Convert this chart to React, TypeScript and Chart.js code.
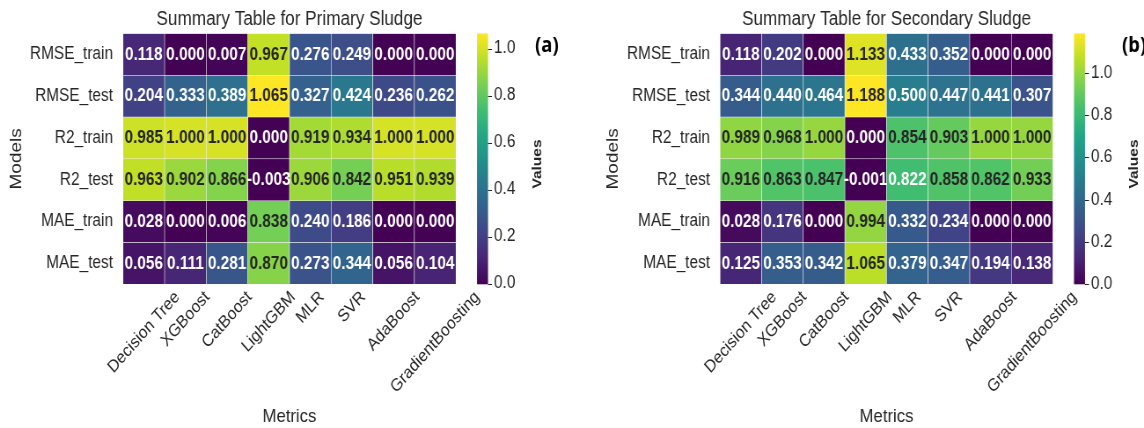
import React, { useEffect, useRef } from 'react';
import { Chart, registerables } from 'chart.js';

Chart.register(...registerables);

// ---------- data ----------
const MODELS = ['Decision Tree', 'XGBoost', 'CatBoost', 'LightGBM', 'MLR', 'SVR', 'AdaBoost', 'GradientBoosting'];
const METRICS = ['RMSE_train', 'RMSE_test', 'R2_train', 'R2_test', 'MAE_train', 'MAE_test'];
const CB_TICKS = [0, 0.2, 0.4, 0.6, 0.8, 1.0];

// Primary sludge
const P_RMSE_TRAIN = [0.118, 0.000, 0.007, 0.967, 0.276, 0.249, 0.000, 0.000];
const P_RMSE_TEST = [0.204, 0.333, 0.389, 1.065, 0.327, 0.424, 0.236, 0.262];
const P_R2_TRAIN = [0.985, 1.000, 1.000, 0.000, 0.919, 0.934, 1.000, 1.000];
const P_R2_TEST = [0.963, 0.902, 0.866, -0.003, 0.906, 0.842, 0.951, 0.939];
const P_MAE_TRAIN = [0.028, 0.000, 0.006, 0.838, 0.240, 0.186, 0.000, 0.000];
const P_MAE_TEST = [0.056, 0.111, 0.281, 0.870, 0.273, 0.344, 0.056, 0.104];
const PRIMARY = [P_RMSE_TRAIN, P_RMSE_TEST, P_R2_TRAIN, P_R2_TEST, P_MAE_TRAIN, P_MAE_TEST];

// Secondary sludge
const S_RMSE_TRAIN = [0.118, 0.202, 0.000, 1.133, 0.433, 0.352, 0.000, 0.000];
const S_RMSE_TEST = [0.344, 0.440, 0.464, 1.188, 0.500, 0.447, 0.441, 0.307];
const S_R2_TRAIN = [0.989, 0.968, 1.000, 0.000, 0.854, 0.903, 1.000, 1.000];
const S_R2_TEST = [0.916, 0.863, 0.847, -0.001, 0.822, 0.858, 0.862, 0.933];
const S_MAE_TRAIN = [0.028, 0.176, 0.000, 0.994, 0.332, 0.234, 0.000, 0.000];
const S_MAE_TEST = [0.125, 0.353, 0.342, 1.065, 0.379, 0.347, 0.194, 0.138];
const SECONDARY = [S_RMSE_TRAIN, S_RMSE_TEST, S_R2_TRAIN, S_R2_TEST, S_MAE_TRAIN, S_MAE_TEST];

// ---------- colour map ----------
const VIRIDIS = ['#440154', '#482475', '#414487', '#355f8d', '#2a788e', '#21918c', '#22a884', '#44bf70', '#7ad151', '#bddf26', '#fde725'];

function hexToRgb(h: string): number[] {
  return [parseInt(h.slice(1, 3), 16), parseInt(h.slice(3, 5), 16), parseInt(h.slice(5, 7), 16)];
}
const VIRIDIS_RGB = VIRIDIS.map(hexToRgb);

function viridis(t: number): number[] {
  const tt = Math.max(0, Math.min(1, t)) * (VIRIDIS_RGB.length - 1);
  const i = Math.min(Math.floor(tt), VIRIDIS_RGB.length - 2);
  const f = tt - i;
  const a = VIRIDIS_RGB[i], b = VIRIDIS_RGB[i + 1];
  return [0, 1, 2].map((k) => a[k] + (b[k] - a[k]) * f);
}
function rgbStr(c: number[]) {
  return `rgb(${Math.round(c[0])},${Math.round(c[1])},${Math.round(c[2])})`;
}
function luminance(c: number[]) {
  const lin = c.map((v) => {
    const s = v / 255;
    return s <= 0.03928 ? s / 12.92 : Math.pow((s + 0.055) / 1.055, 2.4);
  });
  return 0.2126 * lin[0] + 0.7152 * lin[1] + 0.0722 * lin[2];
}

// ---------- layout ----------
const SX = 0.88; // horizontal compression of the figure
const PANEL_CSS_W = 572;
const H = 428;
const TEXT = '#262626';
const FONT = "'Liberation Sans', Arial, sans-serif";

type PanelProps = { title: string; rows: number[][]; tag: string; shift: number; tagOffset: number };

function Panel({ title, rows, tag, shift, tagOffset }: PanelProps) {
  const ref = useRef<HTMLCanvasElement | null>(null);
  const W = Math.round(PANEL_CSS_W / SX);

  useEffect(() => {
    const canvas = ref.current;
    if (!canvas) return;
    Chart.defaults.font.family = FONT;
    const padL = shift / SX;
    const yW = 123 / SX;
    const heatW = 333 / SX;
    const y2W = W - padL - yW - heatW;
    const flat = rows.flat();
    const vmin = Math.min(...flat);
    const vmax = Math.max(...flat);
    const norm = (v: number) => (v - vmin) / (vmax - vmin);

    const datasets = METRICS.map((m, r) => ({
      label: m,
      data: MODELS.map(() => [r, r + 1]),
      backgroundColor: rows[r].map((v) => rgbStr(viridis(norm(v)))),
      borderColor: 'rgba(238,238,238,0.9)',
      borderWidth: 0.6,
      borderSkipped: false,
      barPercentage: 1,
      categoryPercentage: 1,
      grouped: false,
    }));

    const noPad = (sc: any) => {
      sc.paddingTop = 0;
      sc.paddingBottom = 0;
      sc.paddingLeft = 0;
      sc.paddingRight = 0;
    };

    const deco = {
      id: 'deco',
      afterDatasetsDraw(chart: any) {
        const ctx = chart.ctx as CanvasRenderingContext2D;
        const ca = chart.chartArea;
        ctx.save();
        // cell annotations
        ctx.font = `bold 17.5px ${FONT}`;
        ctx.textAlign = 'center';
        ctx.textBaseline = 'middle';
        chart.data.datasets.forEach((_: any, r: number) => {
          const meta = chart.getDatasetMeta(r);
          meta.data.forEach((el: any, c: number) => {
            const v = rows[r][c];
            ctx.fillStyle = luminance(viridis(norm(v))) > 0.408 ? TEXT : '#ffffff';
            const p = el.getCenterPoint();
            ctx.fillText(v.toFixed(3), p.x, p.y + 0.5);
          });
        });
        // rotated x tick labels (centred like matplotlib)
        const xs = chart.scales.x;
        const fs = 17.5;
        ctx.font = `${fs}px ${FONT}`;
        ctx.fillStyle = TEXT;
        MODELS.forEach((m, i) => {
          const w = ctx.measureText(m).width;
          const d = (w + fs * 1.15) * Math.SQRT1_2;
          const cx = xs.getPixelForValue(i);
          const cy = ca.bottom + 3 + d / 2;
          ctx.save();
          ctx.translate(cx, cy);
          ctx.rotate(-Math.PI / 4);
          ctx.fillText(m, 0, 0);
          ctx.restore();
        });
        // colour bar
        const s = chart.scales.y2;
        const x0 = ca.right + 21 / SX;
        const x1 = ca.right + 32 / SX;
        const top = s.getPixelForValue(vmax);
        const bottom = s.getPixelForValue(vmin);
        const g = ctx.createLinearGradient(0, bottom, 0, top);
        VIRIDIS.forEach((c, i) => g.addColorStop(i / (VIRIDIS.length - 1), c));
        ctx.fillStyle = g;
        ctx.fillRect(x0, top, x1 - x0, bottom - top);
        ctx.strokeStyle = TEXT;
        ctx.lineWidth = 1;
        s.ticks.forEach((t: any) => {
          const y = Math.round(s.getPixelForValue(t.value)) + 0.5;
          ctx.beginPath();
          ctx.moveTo(x1, y);
          ctx.lineTo(x1 + 4 / SX, y);
          ctx.stroke();
        });
        // colour bar label
        ctx.font = `bold 15.5px ${FONT}`;
        ctx.fillStyle = TEXT;
        ctx.save();
        ctx.translate(ca.right + 81.5 / SX, 164);
        ctx.rotate(-Math.PI / 2);
        ctx.textAlign = 'center';
        ctx.textBaseline = 'middle';
        ctx.fillText('Values', 0, 0);
        ctx.restore();
        // panel tag
        ctx.font = `bold 21px 'Open Sans', ${FONT}`;
        ctx.fillStyle = '#000000';
        ctx.textAlign = 'left';
        ctx.textBaseline = 'middle';
        ctx.fillText(tag, ca.right + tagOffset / SX, 46);
        ctx.restore();
      },
    };

    const chart = new Chart(canvas, {
      type: 'bar',
      data: { labels: MODELS, datasets: datasets as any },
      options: {
        responsive: false,
        maintainAspectRatio: false,
        animation: false,
        devicePixelRatio: 1,
        layout: { padding: { left: padL, right: 0, top: 0, bottom: 0 } },
        plugins: {
          legend: { display: false },
          tooltip: { enabled: false },
          title: {
            display: true,
            text: title,
            fullSize: false,
            color: TEXT,
            font: { size: 19.5, weight: 'normal', family: FONT },
            padding: { top: 8, bottom: 2 },
          },
        },
        scales: {
          x: {
            type: 'category',
            position: 'bottom',
            offset: true,
            grid: { display: false, drawTicks: false },
            border: { display: false },
            ticks: { display: false },
            title: { display: true, text: 'Metrics', color: TEXT, font: { size: 19, family: FONT }, padding: { top: 0, bottom: 0 } },
            afterFit: (sc: any) => { sc.height = H - 284.3; noPad(sc); },
          },
          y: {
            type: 'linear',
            position: 'left',
            min: 0,
            max: METRICS.length,
            reverse: true,
            grid: { display: false, drawTicks: false },
            border: { display: false },
            afterBuildTicks: (sc: any) => { sc.ticks = METRICS.map((_, i) => ({ value: i + 0.5 })); },
            ticks: {
              autoSkip: false,
              padding: 10 / SX,
              color: TEXT,
              font: { size: 17.5, family: FONT },
              callback: (_v: any, i: number) => METRICS[i],
            },
            title: { display: true, text: 'Models', color: TEXT, font: { size: 19, family: FONT }, padding: { top: 7, bottom: 0 } },
            afterFit: (sc: any) => { sc.width = yW; noPad(sc); },
          },
          y2: {
            type: 'linear',
            position: 'right',
            min: vmin,
            max: vmax,
            grid: { display: false, drawTicks: false },
            border: { display: false },
            afterBuildTicks: (sc: any) => { sc.ticks = CB_TICKS.map((v) => ({ value: v })); },
            ticks: {
              autoSkip: false,
              padding: 38 / SX,
              color: TEXT,
              font: { size: 17.5, family: FONT },
              callback: (v: any) => Number(v).toFixed(1),
            },
            afterFit: (sc: any) => { sc.width = y2W; noPad(sc); },
          },
        } as any,
      },
      plugins: [deco],
    });
    return () => chart.destroy();
  }, [title, rows, tag, shift, tagOffset, W]);

  return (
    <canvas
      ref={ref}
      width={W}
      height={H}
      style={{ width: `${PANEL_CSS_W}px`, height: `${H}px`, display: 'block' }}
    />
  );
}

export default function App() {
  useEffect(() => {
    document.body.style.margin = '0';
  }, []);
  return (
    <div style={{ display: 'flex', width: 1144, height: H, background: '#ffffff' }}>
      <Panel title="Summary Table for Primary Sludge" rows={PRIMARY} tag="(a)" shift={0} tagOffset={79} />
      <Panel title="Summary Table for Secondary Sludge" rows={SECONDARY} tag="(b)" shift={25} tagOffset={69} />
    </div>
  );
}
